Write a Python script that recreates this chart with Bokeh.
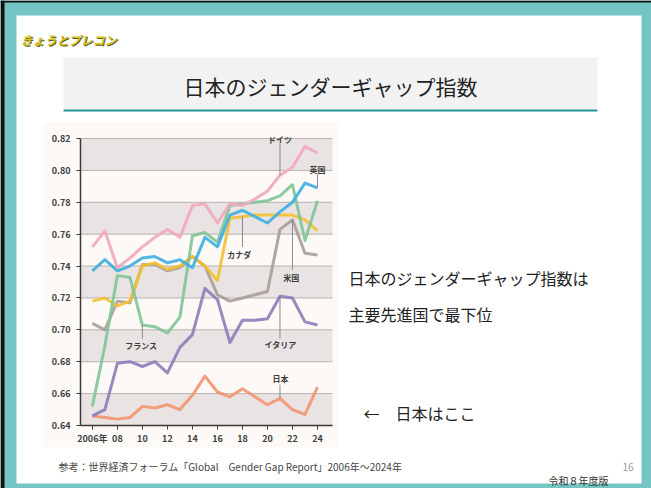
from bokeh.plotting import figure
from bokeh.models import FixedTicker, Range1d
from bokeh.core.properties import value
from bokeh.embed import file_html
from bokeh.resources import INLINE

# ---------------- data ----------------
years = list(range(2006, 2025))
germany = [0.752, 0.762, 0.739, 0.745, 0.752, 0.758, 0.763, 0.758, 0.778, 0.779,
           0.767, 0.779, 0.778, 0.782, 0.787, 0.797, 0.802, 0.815, 0.811]
uk = [0.737, 0.744, 0.737, 0.740, 0.745, 0.746, 0.742, 0.744, 0.739, 0.758,
      0.752, 0.772, 0.775, 0.771, 0.767, 0.774, 0.780, 0.792, 0.789]
france = [0.652, 0.690, 0.734, 0.733, 0.703, 0.702, 0.698, 0.708, 0.759, 0.761,
          0.755, 0.778, 0.779, 0.780, 0.781, 0.784, 0.791, 0.756, 0.781]
canada = [0.718, 0.720, 0.715, 0.718, 0.740, 0.742, 0.738, 0.740, 0.746, 0.740,
          0.731, 0.770, 0.771, 0.772, 0.772, 0.772, 0.772, 0.769, 0.762]
usa = [0.704, 0.700, 0.718, 0.717, 0.741, 0.741, 0.737, 0.739, 0.746, 0.740,
       0.722, 0.718, 0.720, 0.722, 0.724, 0.763, 0.769, 0.748, 0.747]
italy = [0.646, 0.650, 0.679, 0.680, 0.677, 0.680, 0.673, 0.689, 0.697, 0.726,
         0.719, 0.692, 0.706, 0.706, 0.707, 0.721, 0.720, 0.705, 0.703]
japan = [0.646, 0.645, 0.644, 0.645, 0.652, 0.651, 0.653, 0.650, 0.659, 0.671,
         0.661, 0.658, 0.663, 0.658, 0.653, 0.657, 0.650, 0.647, 0.664]

x_ticks = [2006, 2008, 2010, 2012, 2014, 2016, 2018, 2020, 2022, 2024]
x_tick_labels = ["2006年", "08", "10", "12", "14", "16", "18", "20", "22", "24"]
y_ticks = [0.64, 0.66, 0.68, 0.70, 0.72, 0.74, 0.76, 0.78, 0.80, 0.82]
y_tick_labels = ["0.64", "0.66", "0.68", "0.70", "0.72", "0.74", "0.76", "0.78", "0.80", "0.82"]
band_lows = [0.64, 0.68, 0.72, 0.76, 0.80]

series_names = ["日本", "イタリア", "米国", "カナダ", "フランス", "英国", "ドイツ"]
series_values = [japan, italy, usa, canada, france, uk, germany]
series_colors = ["#f2946f", "#8b7db8", "#a89c9a", "#f4c02e", "#7fc597", "#3eaee0", "#f2a6bd"]

# series labels: year of the leader line, label height, end of leader line
label_year = {"ドイツ": 2021, "英国": 2024, "カナダ": 2018, "米国": 2022,
              "イタリア": 2021, "日本": 2021, "フランス": 2010}
label_y = {"ドイツ": 0.8195, "英国": 0.8006, "カナダ": 0.7475, "米国": 0.7331,
           "イタリア": 0.6906, "日本": 0.6694, "フランス": 0.6900}
leader_end = {"ドイツ": 0.8170, "英国": 0.7975, "カナダ": 0.7520, "米国": 0.7375,
              "イタリア": 0.6945, "日本": 0.6656, "フランス": 0.6945}
label_dx = {"ドイツ": 0.0, "英国": 0.0, "カナダ": -0.25, "米国": -0.1,
            "イタリア": 0.05, "日本": 0.05, "フランス": -0.1}

JP = "Noto Sans CJK JP"
TEAL = "#74c5c3"

# ---------------- layout ----------------
W, H = 651, 488
# chart plot area on the canvas (pixels) and its data extent
L, R, T, B = 80, 332, 138, 425
X0, X1, Y0, Y1 = 2005.05, 2025.2, 0.64, 0.82
kx = (R - L) / (X1 - X0)
ky = (B - T) / (Y1 - Y0)
x_range = Range1d(X0 - L / kx, X1 + (W - R) / kx)
y_range = Range1d(Y0 - (H - B) / ky, Y1 + T / ky)

p = figure(width=W, height=H, x_range=x_range, y_range=y_range,
           output_backend="svg", toolbar_location=None, min_border=0)
p.extra_x_ranges = {"px": Range1d(0, W)}
p.extra_y_ranges = {"px": Range1d(H, 0)}
p.border_fill_color = TEAL
p.background_fill_color = TEAL
p.outline_line_color = None
p.grid.visible = False


def pxquad(l, r, t, b, color):
    p.quad(left=[l], right=[r], top=[t], bottom=[b], fill_color=color, line_color=None,
           x_range_name="px", y_range_name="px")


def pxtext(x, y, text, size, color="#222222", align="left", style="normal", baseline="middle"):
    p.text(x=[x], y=[y], text=[text], x_range_name="px", y_range_name="px",
           text_font=value(JP), text_font_size=size, text_font_style=style,
           text_color=color, text_align=align, text_baseline=baseline)


# slide chrome
pxquad(0, 4, 0, H, "#111111")              # dark outer edge
pxquad(0, W, 0, 2, "#111111")
pxquad(16, 641, 15, 483, "white")          # slide
pxquad(43, 338, 122, 447, "#fcf9f6")       # chart picture background
pxquad(63, 597, 57, 109, "#f2f2f2")        # title box
pxquad(63, 597, 109, 111, "#1f9592")       # title underline

# chart bands and grid
p.quad(left=X0, right=X1, bottom=band_lows, top=[b + 0.02 for b in band_lows],
       fill_color="#e9e4e3", line_color=None)
p.segment(x0=X0, x1=X1, y0=y_ticks, y1=y_ticks, line_color="#b9b2b1", line_width=1)

# axes placed on the chart area
for ax, ticks, labels, loc, bnds in ((p.xaxis[0], x_ticks, x_tick_labels, Y0, (X0, X1)),
                                     (p.yaxis[0], y_ticks, y_tick_labels, X0, (Y0, Y1))):
    ax.fixed_location = loc
    ax.bounds = bnds
    ax.ticker = FixedTicker(ticks=ticks)
    ax.major_label_overrides = {t: l for t, l in zip(ticks, labels)}
    ax.axis_line_color = "#3a3a3a"
    ax.axis_line_width = 1.5
    ax.major_tick_line_color = "#3a3a3a"
    ax.major_tick_out = 4
    ax.major_tick_in = 0
    ax.minor_tick_line_color = None
    ax.major_label_text_font = JP
    ax.major_label_text_font_size = "9px"
    ax.major_label_text_font_style = "bold"
    ax.major_label_text_color = "#3f3f3f"
p.yaxis.major_label_standoff = 6
p.xaxis.major_label_standoff = 2

# series
for name, vals, col in zip(series_names, series_values, series_colors):
    p.line(years, vals, line_width=3, color=col, line_alpha=0.9, line_join="round")

# series labels with leader lines
for name, vals in zip(series_names, series_values):
    yr = label_year[name]
    v = vals[years.index(yr)]
    p.segment(x0=[yr], y0=[v], x1=[yr], y1=[leader_end[name]], line_color="#8a8a8a", line_width=1)
    p.text(x=[yr + label_dx[name]], y=[label_y[name]], text=[name], text_align="center",
           text_baseline="middle", text_font=value(JP), text_font_size="8px",
           text_font_style="bold", text_color="#3c3c3c")

# slide texts
pxtext(21, 40, "きょうとプレコン", "12px", color="#5e5a10", style="bold italic")
pxtext(20, 39, "きょうとプレコン", "12px", color="#d4c424", style="bold italic")
pxtext(330, 85, "日本のジェンダーギャップ指数", "21px", align="center")
pxtext(348, 277, "日本のジェンダーギャップ指数は", "16px")
pxtext(348, 313, "主要先進国で最下位", "16px")
pxtext(363, 412, "←　日本はここ", "16px")
pxtext(58, 466, "参考：世界経済フォーラム「Global　Gender Gap Report」2006年～2024年", "10px", color="#444444")
pxtext(622, 466, "16", "10px", color="#9a9a9a")
pxtext(548, 487, "令和８年度版", "10px", color="#333333", baseline="bottom")

open("out.html", "w").write(file_html(p, INLINE))
